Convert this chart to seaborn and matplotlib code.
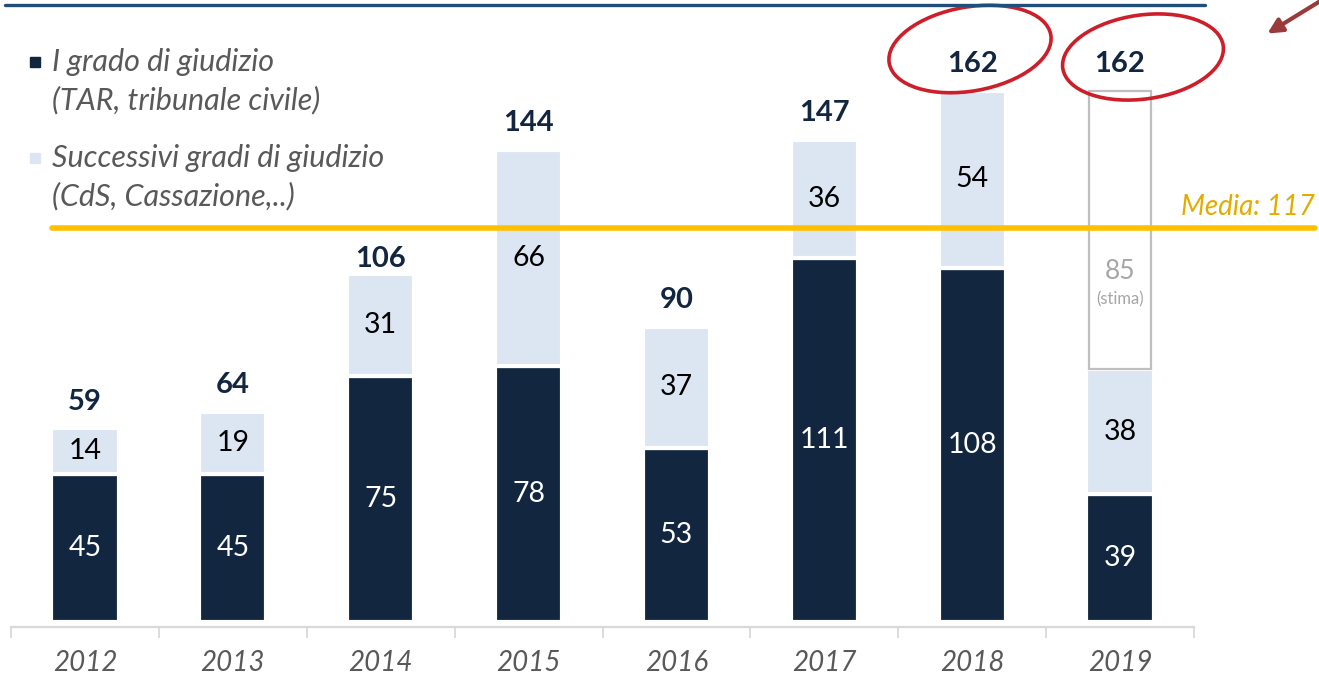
import numpy as np
import pandas as pd
import matplotlib
matplotlib.use("Agg")
import matplotlib.pyplot as plt
import matplotlib.transforms as mtransforms
from matplotlib.patches import Ellipse
import seaborn as sns

# data
anni = ["2012", "2013", "2014", "2015", "2016", "2017", "2018", "2019"]
primo_grado = [45, 45, 75, 78, 53, 111, 108, 39]
successivi = [14, 19, 31, 66, 37, 36, 54, 38]
stima = [0, 0, 0, 0, 0, 0, 0, 85]
media = 117
media_linea = 120  # where the line actually sits in the picture

legend_labels = [("I grado di giudizio", "(TAR, tribunale civile)"),
                 ("Successivi gradi di giudizio", "(CdS, Cassazione,..)")]

NAVY = "#13263f"
LIGHT = "#dce6f2"
GREY_TXT = "#595959"
YELLOW = "#ffc000"
RED = "#cc1f2a"

sns.set_theme(style="white")
plt.rcParams["font.family"] = ["Lato", "DejaVu Sans"]

df = pd.DataFrame({"anno": anni, "primo": primo_grado, "succ": successivi, "stima": stima})
df["base_succ"] = df["primo"]
df["base_stima"] = df["primo"] + df["succ"]
df["totale"] = df["primo"] + df["succ"] + df["stima"]
est = df[df["stima"] > 0]

W, H = 1319, 683
fig = plt.figure(figsize=(W / 100, H / 100), dpi=100)
ax = fig.add_axes([11 / W, (H - 622) / H, (1194 - 11) / W, 622 / H])

bw = 0.455
sns.barplot(data=df, x="anno", y="primo", color=NAVY, width=bw, saturation=1,
            edgecolor="white", linewidth=3, ax=ax)
sns.barplot(data=df, x="anno", y="succ", bottom=df["base_succ"], color=LIGHT, width=bw,
            saturation=1, edgecolor="white", linewidth=3, ax=ax)
sns.barplot(data=est, x="anno", y="stima", order=anni, bottom=est["base_stima"], color="white",
            width=bw - 0.03, saturation=1, edgecolor="#bfbfbf", linewidth=1.6, ax=ax)

ax.set_ylim(0, 622 / 3.28)
ax.set_xlim(-0.5, 7.5)
ax.set_xlabel("")
ax.set_ylabel("")
ax.set_yticks([])
for s in ["top", "left", "right"]:
    ax.spines[s].set_visible(False)
ax.spines["bottom"].set_color("#d9d9d9")
ax.spines["bottom"].set_linewidth(1.6)
ax.spines["bottom"].set_position(("outward", 3.5))

ax.set_xticks(range(len(anni)))
ax.set_xticklabels(anni, fontsize=20, style="italic", color=GREY_TXT)
ax.tick_params(axis="x", which="major", length=0, pad=17)
ax.set_xticks(np.arange(-0.5, len(anni)), minor=True)
ax.tick_params(axis="x", which="minor", bottom=True, length=8, width=1.3,
               color="#d9d9d9", direction="out")

# total label 2014 sits closer to its bar (so it clears the average line)
total_offset = {2: 2}

# labels inside bars
for i, r in df.iterrows():
    ax.text(i, r["primo"] / 2, str(r["primo"]), ha="center", va="center",
            fontsize=20.5, color="white")
    ax.text(i, r["base_succ"] + r["succ"] / 2, str(r["succ"]), ha="center", va="center",
            fontsize=20.5, color="black")
    if r["stima"] > 0:
        ax.text(i, r["base_stima"] + r["stima"] * 0.35, str(r["stima"]), ha="center",
                va="center", fontsize=19, color="#a6a6a6")
        ax.text(i, r["base_stima"] + r["stima"] * 0.25, "(stima)", ha="center",
                va="center", fontsize=12, color="#a6a6a6")
    ax.annotate(str(r["totale"]), (i, r["totale"]), xytext=(0, total_offset.get(i, 10)),
                textcoords="offset points", ha="center", va="bottom", fontsize=21,
                fontweight="bold", color=NAVY)

# overlay in pixel coordinates for the decorations
ov = fig.add_axes([0, 0, 1, 1], zorder=5)
ov.set_xlim(0, W)
ov.set_ylim(H, 0)
ov.axis("off")
ov.patch.set_visible(False)

# average line
tr = mtransforms.blended_transform_factory(ov.transData, ax.transData)
ax.plot([52, 1315], [media_linea, media_linea], transform=tr, color=YELLOW, lw=4,
        clip_on=False, zorder=4)
ax.text(1315, media_linea + 2.5, f"Media: {media}", transform=tr, ha="right", va="bottom",
        fontsize=20, style="italic", color="#e3ac00", clip_on=False)

# top rule
ov.plot([5, 1205], [5, 5], color="#1f4e79", lw=2.4)

# legend
for k, ((l1, l2), col) in enumerate(zip(legend_labels, [NAVY, LIGHT])):
    y0 = 62 + k * 96
    ov.plot(35, y0, marker="s", ms=7, color=col, mec=col)
    ov.text(52, y0, l1, ha="left", va="center", fontsize=22, style="italic", color=GREY_TXT)
    ov.text(52, y0 + 38, l2, ha="left", va="center", fontsize=22, style="italic", color=GREY_TXT)

# circled totals
ov.add_patch(Ellipse((970, 49), 164, 84, angle=-10, fill=False, ec=RED, lw=2.6))
ov.add_patch(Ellipse((1143, 57), 162, 84, angle=-8, fill=False, ec=RED, lw=2.6))

# arrow top right
ov.annotate("", xy=(1265, 35), xytext=(1322, 0),
            arrowprops=dict(arrowstyle="-|>", color="#9b3a3a", lw=3, mutation_scale=22))

fig.savefig("out.png", dpi=100)
